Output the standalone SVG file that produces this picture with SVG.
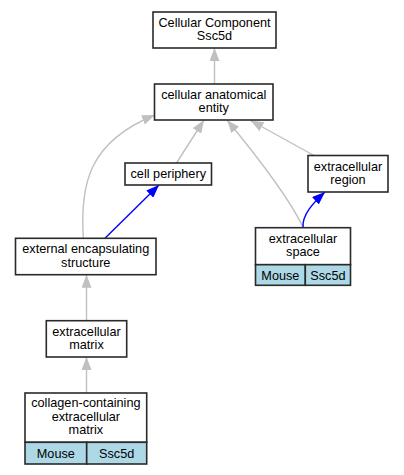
<svg xmlns="http://www.w3.org/2000/svg" width="404" height="475" viewBox="0 0 404 475">
<defs>
<style>
.box{fill:#ffffff;stroke:#2a2a2a;stroke-width:1.6}
.cell{fill:#add8e6;stroke:#2a2a2a;stroke-width:1.6}
text{font-family:"Liberation Sans",Arial,sans-serif;font-size:12.7px;fill:#000000;text-anchor:middle}
.e{fill:none;stroke:#c0c0c0;stroke-width:1.4}
.b{fill:none;stroke:#0000ff;stroke-width:1.4}
</style>
<marker id="ag" viewBox="0 0 13 10" refX="13" refY="5" markerWidth="13" markerHeight="10" markerUnits="userSpaceOnUse" orient="auto">
<path d="M0,0 L13,5 L0,10 z" fill="#c0c0c0"/>
</marker>
<marker id="ab" viewBox="0 0 13 10" refX="13" refY="5" markerWidth="13" markerHeight="10" markerUnits="userSpaceOnUse" orient="auto">
<path d="M0,0 L13,5 L0,10 z" fill="#0000ff"/>
</marker>
</defs>
<rect width="404" height="475" fill="#ffffff"/>
<g id="edges">
<path class="e" d="M214.5,84 L214.5,48" marker-end="url(#ag)"/>
<path class="e" d="M176.5,163 L204,120" marker-end="url(#ag)"/>
<path class="e" d="M303,227 Q285,190 227,120" marker-end="url(#ag)"/>
<path class="e" d="M314,155.5 L250.5,120.5" marker-end="url(#ag)"/>
<path class="e" d="M83.3,238 C80,185 88,142 155,115" marker-end="url(#ag)"/>
<path class="b" d="M105,238.3 L159,185" marker-end="url(#ab)"/>
<path class="b" d="M303,227.7 C302,215 313,203 325,192" marker-end="url(#ab)"/>
<path class="e" d="M86.5,320.7 L86.5,274.7" marker-end="url(#ag)"/>
<path class="e" d="M86.5,393 L86.5,357" marker-end="url(#ag)"/>
</g>
<g id="n1">
<rect class="box" x="153" y="12" width="123" height="36"/>
<text x="214.5" y="27">Cellular Component</text>
<text x="214.5" y="40.3">Ssc5d</text>
</g>
<g id="n2">
<rect class="box" x="154.5" y="84" width="118.5" height="36"/>
<text x="213.75" y="99">cellular anatomical</text>
<text x="213.75" y="112.3">entity</text>
</g>
<g id="n3">
<rect class="box" x="125" y="163" width="86.5" height="22"/>
<text x="168.25" y="177.5">cell periphery</text>
</g>
<g id="n4">
<rect class="box" x="308" y="155.5" width="80" height="36.5"/>
<text x="348" y="170.6">extracellular</text>
<text x="348" y="183.9">region</text>
</g>
<g id="n5">
<rect class="box" x="15.5" y="238.3" width="140.5" height="36.4"/>
<text x="85.75" y="253.4">external encapsulating</text>
<text x="85.75" y="266.7">structure</text>
</g>
<g id="n6">
<rect class="box" x="255.5" y="227.7" width="95" height="37"/>
<rect class="cell" x="255.5" y="264.7" width="49.8" height="20.6"/>
<rect class="cell" x="305.3" y="264.7" width="45.2" height="20.6"/>
<text x="303" y="243">extracellular</text>
<text x="303" y="256.3">space</text>
<text x="280.4" y="279.5">Mouse</text>
<text x="327.9" y="279.5">Ssc5d</text>
</g>
<g id="n7">
<rect class="box" x="46.3" y="320.7" width="80.4" height="36.3"/>
<text x="86.5" y="335.7">extracellular</text>
<text x="86.5" y="349">matrix</text>
</g>
<g id="n8">
<rect class="box" x="25" y="393" width="121.7" height="49.3"/>
<rect class="cell" x="25" y="442.3" width="61.7" height="21.7"/>
<rect class="cell" x="86.7" y="442.3" width="60" height="21.7"/>
<text x="85.85" y="407.3">collagen-containing</text>
<text x="85.85" y="420.6">extracellular</text>
<text x="85.85" y="433.9">matrix</text>
<text x="55.85" y="457.5">Mouse</text>
<text x="116.7" y="457.5">Ssc5d</text>
</g>
</svg>
